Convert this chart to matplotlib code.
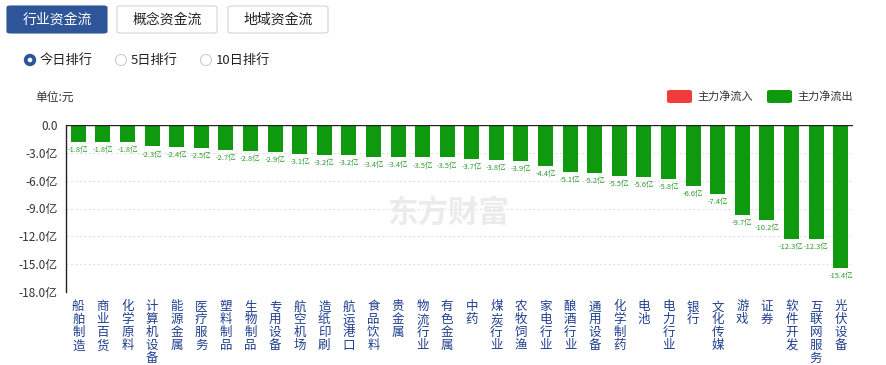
import numpy as np
import matplotlib.pyplot as plt
from matplotlib.patches import FancyBboxPatch, Circle

plt.rcParams['font.family'] = ['Noto Sans CJK SC', 'DejaVu Sans']

# --- data ---
categories = ["船舶制造", "商业百货", "化学原料", "计算机设备", "能源金属", "医疗服务",
              "塑料制品", "生物制品", "专用设备", "航空机场", "造纸印刷", "航运港口",
              "食品饮料", "贵金属", "物流行业", "有色金属", "中药", "煤炭行业",
              "农牧饲渔", "家电行业", "酿酒行业", "通用设备", "化学制药", "电池",
              "电力行业", "银行", "文化传媒", "游戏", "证券", "软件开发",
              "互联网服务", "光伏设备"]
values = [-1.8, -1.8, -1.8, -2.3, -2.4, -2.5, -2.7, -2.8, -2.9, -3.1, -3.2, -3.2,
          -3.4, -3.4, -3.5, -3.5, -3.7, -3.8, -3.9, -4.4, -5.1, -5.2, -5.5, -5.6,
          -5.8, -6.6, -7.4, -9.7, -10.2, -12.3, -12.3, -15.4]
yticks = [0, -3, -6, -9, -12, -15, -18]
tabs = ["行业资金流", "概念资金流", "地域资金流"]
ranks = ["今日排行", "5日排行", "10日排行"]
legend_items = ["主力净流入", "主力净流出"]

W, H = 887, 365
green = '#0f990f'
red = '#f23c3c'
navy = '#2e5597'

fig = plt.figure(figsize=(W / 100, H / 100), dpi=100)

def px(x, y):
    # pixel coords (top-left origin) -> figure fraction
    return x / W, 1 - y / H

# --- tab buttons ---
tab_x = [7, 117, 228]
for i, (t, x0) in enumerate(zip(tabs, tab_x)):
    fx, fy = px(x0, 33)
    box = FancyBboxPatch((fx, fy), 100 / W, 27 / H, boxstyle="round,pad=0,rounding_size=0.004",
                         transform=fig.transFigure,
                         facecolor=navy if i == 0 else 'white',
                         edgecolor=navy if i == 0 else '#cfd4dc', linewidth=0.8)
    fig.patches.append(box)
    tx, ty = px(x0 + 50, 20)
    fig.text(tx, ty, t, ha='center', va='center', fontsize=10,
             color='white' if i == 0 else '#222222')

# --- radio row ---
radio_x = [30, 121, 206]
for i, (r, x0) in enumerate(zip(ranks, radio_x)):
    cx, cy = px(x0, 60)
    if i == 0:
        fig.patches.append(Circle((x0, H - 60), 5.5, transform=None, facecolor=navy,
                                  edgecolor=navy))
        fig.patches.append(Circle((x0, H - 60), 2.3, transform=None, facecolor='white',
                                  edgecolor='none'))
    else:
        fig.patches.append(Circle((x0, H - 60), 5.5, transform=None, facecolor='white',
                                  edgecolor='#c8ccd2', linewidth=0.8))
    fig.text(cx + 10 / W, cy, r, ha='left', va='center', fontsize=9.5, color='#222222')

# --- unit + legend ---
ux, uy = px(35, 97)
fig.text(ux, uy, "单位:元", ha='left', va='center', fontsize=8.5, color='#333333')
leg_x = [667, 767]
for lab, x0, c in zip(legend_items, leg_x, [red, green]):
    fx, fy = px(x0, 103)
    fig.patches.append(FancyBboxPatch((fx, fy), 25 / W, 13 / H,
                                      boxstyle="round,pad=0,rounding_size=0.004",
                                      transform=fig.transFigure, facecolor=c, edgecolor='none'))
    tx, ty = px(x0 + 30, 96.5)
    fig.text(tx, ty, lab, ha='left', va='center', fontsize=8, color='#333333')

# --- chart ---
l, r_, t_, b_ = 66, 853, 125, 292
ax = fig.add_axes([l / W, 1 - b_ / H, (r_ - l) / W, (b_ - t_) / H])
x = np.arange(len(categories))
ax.bar(x, values, width=0.61, color=green, zorder=3)
ax.set_xlim(-0.5, len(categories) - 0.5)
ax.set_ylim(-18, 0)

for xi, v in zip(x, values):
    ax.annotate(f"{v}亿", (xi, v), xytext=(0, -3), textcoords='offset points',
                ha='center', va='top', fontsize=5.4, color='#2f9a2f', zorder=4)

ax.set_yticks(yticks)
ax.set_yticklabels(["0.0" if v == 0 else f"{v:.1f}亿" for v in yticks],
                   fontsize=8.5, color='#333333')
ax.tick_params(axis='y', length=0, pad=6)
ax.set_xticks([])
for yv in yticks[1:]:
    ax.axhline(yv, color='#e2e2e2', linestyle=(0, (2, 2)), linewidth=0.8, zorder=1)
ax.axhline(0, color='#222222', linewidth=1.0, zorder=5)

for s in ['top', 'right', 'bottom']:
    ax.spines[s].set_visible(False)
ax.spines['left'].set_color('#222222')
ax.spines['left'].set_linewidth(1.0)

# vertical stacked category labels
for xi, c in zip(x, categories):
    ax.annotate("\n".join(c), (xi, -18), xytext=(0, -6), textcoords='offset points',
                ha='center', va='top', fontsize=9, color='#1f3f8f', linespacing=1.0,
                annotation_clip=False)

# watermark
wx, wy = px(448, 213)
fig.text(wx, wy, "东方财富", ha='center', va='center', fontsize=22, fontweight='bold',
         color='#ebebeb', zorder=0)

fig.savefig("out.png", dpi=100, facecolor='white')
